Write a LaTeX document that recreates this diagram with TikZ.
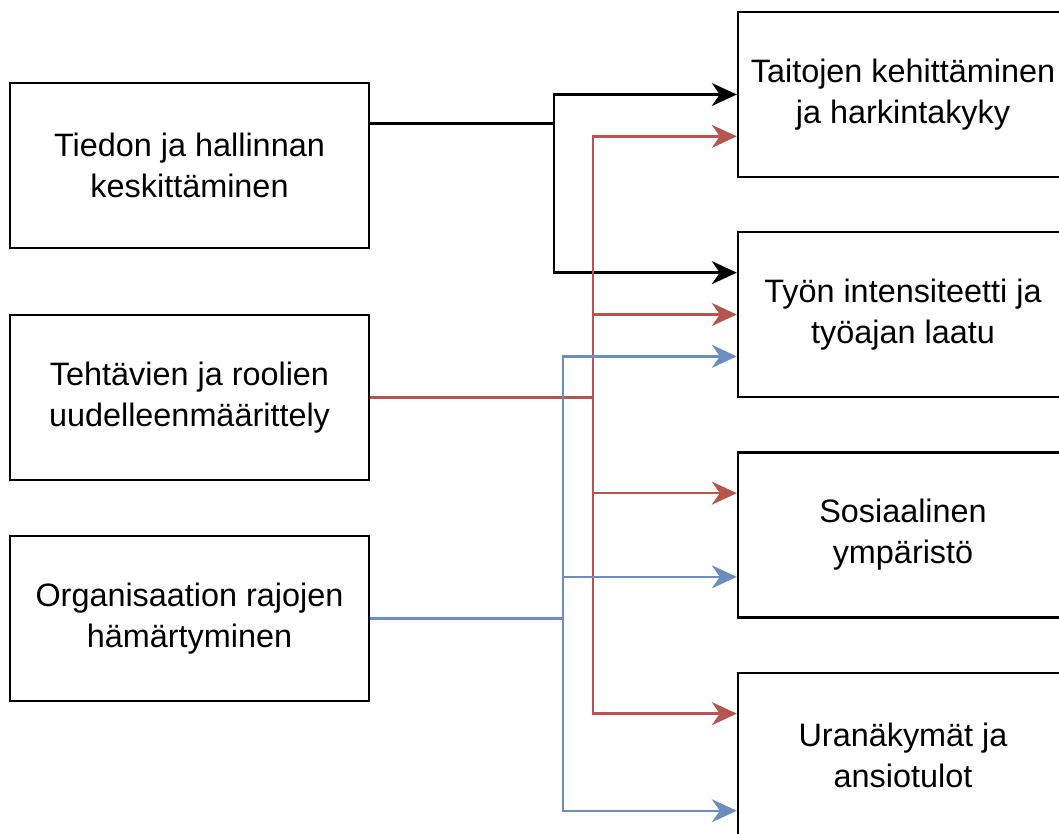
\documentclass[tikz,border=0pt]{standalone}
\usepackage{fontspec}
\setmainfont{Liberation Sans}
\usetikzlibrary{arrows.meta, calc}

\definecolor{linkred}{HTML}{B85450}
\definecolor{linkblue}{HTML}{6C8EBF}

\begin{document}
\begin{tikzpicture}[x = 1pt, y = -1pt, > = {Stealth[length = 25pt, width = 23pt, inset = 8pt]},
	box/.style = {draw, line width = 2.4pt, minimum width = 359pt, minimum height = 165pt, inner sep = 0pt, align = center, font = \fontsize{32.4}{41}\selectfont},
	goal/.style = {box, minimum width = 330pt},
	link/.style = {line width = 2.4pt}]

	\clip (0, 0) rectangle (1059, 834);

	% Changes on the left

	\node [box] (tiedon) at (189.5, 165.5) {Tiedon ja hallinnan\\keskittäminen};
	\node [box] (tehtavat) at (189.5, 397.5) {Tehtävien ja roolien\\uudelleenmäärittely};
	\node [box] (rajat) at (189.5, 618.5) {Organisaation rajojen\\hämärtyminen};

	% Outcomes on the right

	\foreach \n/\y/\t in {taidot/94.5/{Taitojen kehittäminen\\ja harkintakyky}, tyon/314.5/{Työn intensiteetti ja\\työajan laatu}, sosiaali/535/{Sosiaalinen\\ympäristö}, ura/755.5/{Uranäkymät ja\\ansiotulot}}
		\node [goal] (\n) at (903, \y) {\t};

	% Black links

	\draw [link] ($(tiedon.north east)!0.25!(tiedon.south east)$) -- ++(184, 0) coordinate (bk);
	\draw [link, ->] (bk) |- (taidot.west);
	\draw [link, ->] (bk) |- ($(tyon.north west)!0.25!(tyon.south west)$);

	% Red links

	\draw [link, linkred] (tehtavat.east) -- ++(223, 0) coordinate (rd);
	\foreach \n/\f in {taidot/0.75, tyon/0.5, sosiaali/0.25, ura/0.25}
		\draw [link, linkred, ->] (rd) |- ($(\n.north west)!\f!(\n.south west)$);

	% Blue links

	\draw [link, linkblue] (rajat.east) -- ++(193, 0) coordinate (bl);
	\foreach \n/\f in {tyon/0.75, sosiaali/0.75, ura/0.83}
		\draw [link, linkblue, ->] (bl) |- ($(\n.north west)!\f!(\n.south west)$);

\end{tikzpicture}
\end{document}
